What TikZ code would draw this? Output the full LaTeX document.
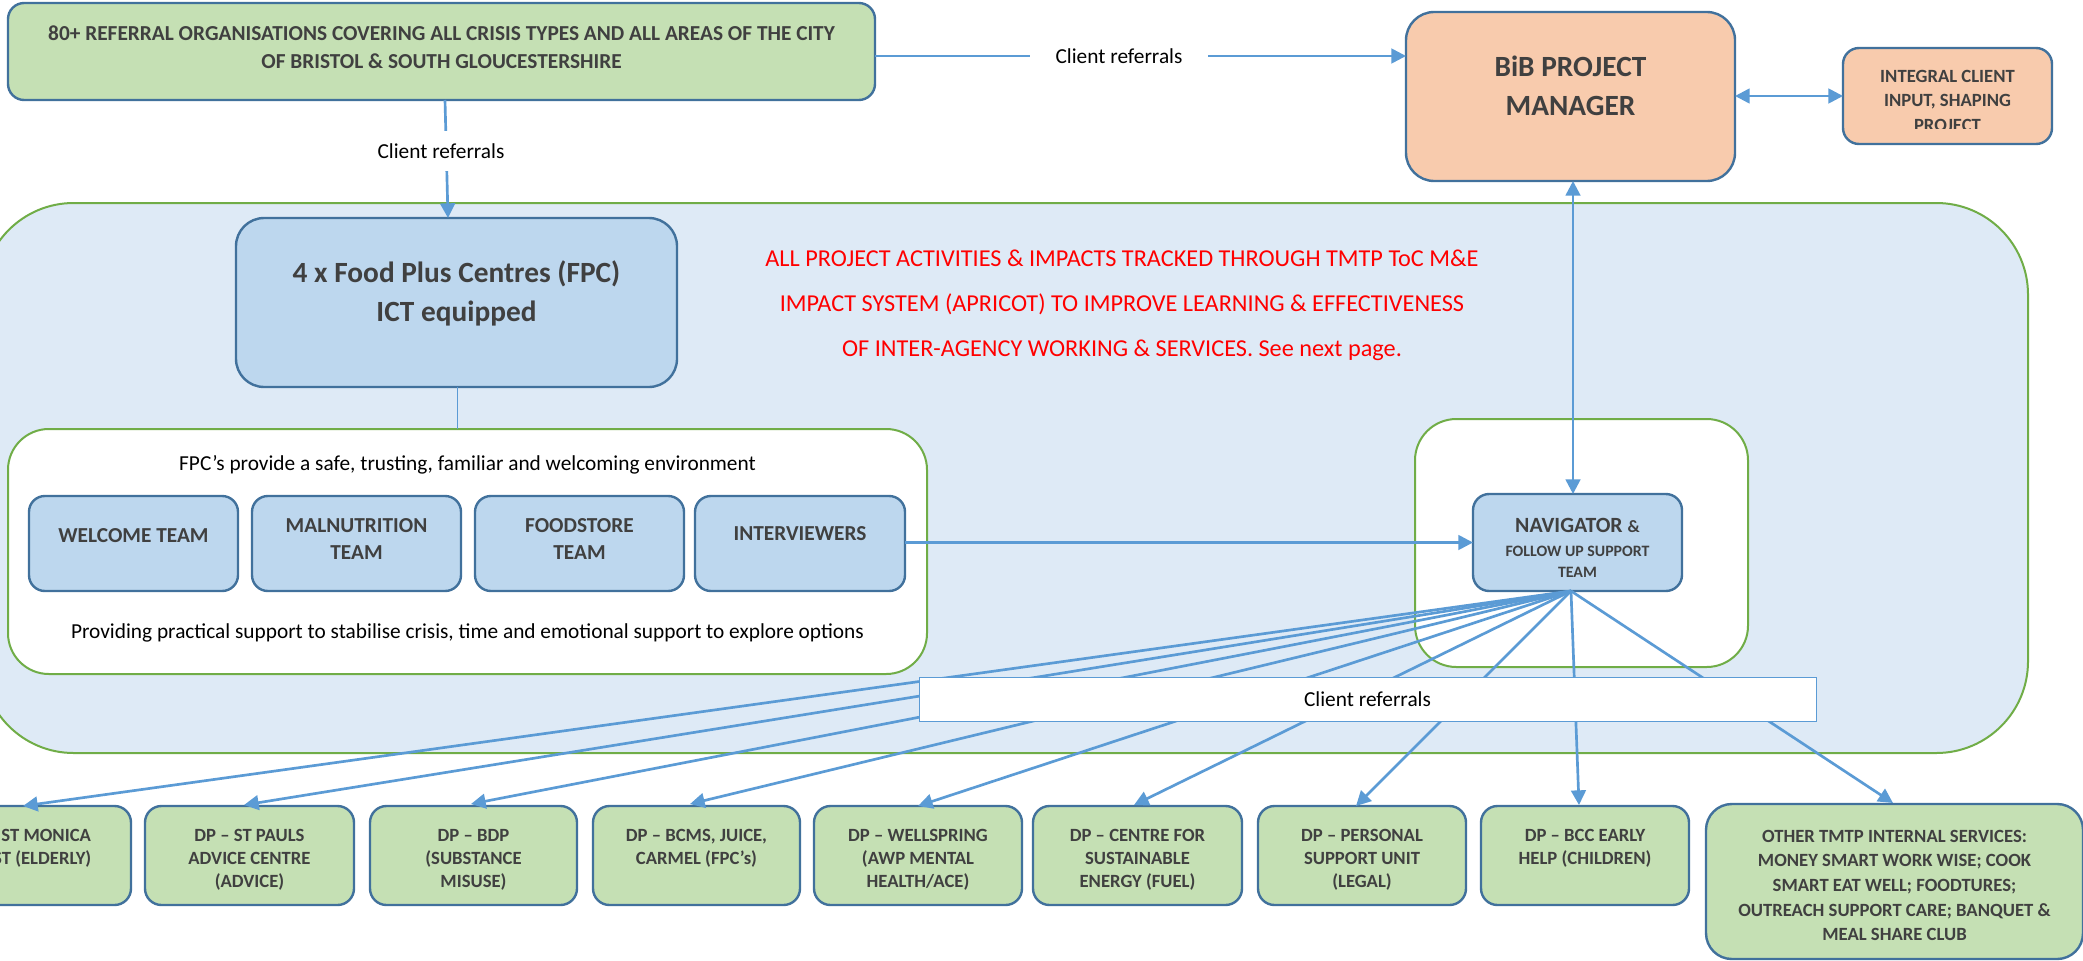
\documentclass[tikz,border=0pt]{standalone}
\usepackage{fontspec}
\setmainfont{Carlito}
\usetikzlibrary{arrows.meta}
\definecolor{linkblue}{HTML}{5B9BD5}
\definecolor{edgeblue}{HTML}{41719C}
\definecolor{edgegreen}{HTML}{70AD47}
\definecolor{fillgreen}{HTML}{C5E0B4}
\definecolor{fillblue}{HTML}{BDD7EE}
\definecolor{fillorange}{HTML}{F8CBAD}
\definecolor{fillpale}{HTML}{DEEAF6}
\definecolor{inktext}{HTML}{404040}
\newcommand{\fsz}[2]{\fontsize{#1}{#2}\selectfont}
% name, style, x1, y1, x2, y2, top offset (px), text
\newcommand{\pxbox}[8]{%
  \pgfmathsetmacro{\bw}{((#5)-(#3))*0.75}%
  \pgfmathsetmacro{\bh}{((#6)-(#4))*0.75}%
  \pgfmathsetmacro{\br}{min(\bw,\bh)/6}%
  \pgfmathsetmacro{\bo}{(#7)*0.75}%
  \node[rounded corners=\br pt,inner sep=0pt,outer sep=0pt,#2] (#1) at ({((#3)+(#5))/2},{((#4)+(#6))/2})
    {\parbox[c][\bh pt][t]{\bw pt}{\centering\vspace*{\bo pt}\leavevmode #8}};}
\tikzset{
  x=0.75pt,y=-0.75pt,
  greenbox/.style={draw=edgeblue,line width=1.8pt,fill=fillgreen,text=inktext,font=\bfseries\fsz{14}{17.3}},
  bluebox/.style={draw=edgeblue,line width=1.8pt,fill=fillblue,text=inktext,font=\bfseries\fsz{16}{20}},
  orangebox/.style={draw=edgeblue,line width=1.8pt,fill=fillorange,text=inktext},
  whitepanel/.style={draw=edgegreen,line width=1.5pt,fill=white,text=black,font=\fsz{16}{20}},
  palepanel/.style={draw=edgegreen,line width=1.5pt,fill=fillpale},
  link/.style={draw=linkblue,line width=2pt,-{Triangle[length=11pt,width=11pt]}},
  twoway/.style={draw=linkblue,line width=2pt,{Triangle[length=11pt,width=11pt]}-{Triangle[length=11pt,width=11pt]}},
  plainlink/.style={draw=linkblue,line width=0.6pt},
  linklabel/.style={fill=white,text=black,font=\fsz{16}{18},inner sep=0pt,minimum height=30pt},
  redline/.style={text=red,font=\fsz{18.2}{20},inner sep=0pt},
}
\begin{document}
\begin{tikzpicture}
\useasboundingbox (0,0) rectangle (2083,960);
\clip (0,0) rectangle (2083,960);
\fill[white] (0,0) rectangle (2083,960);
\pxbox{panel}{palepanel}{-18}{203}{2028}{753}{0}{}
\pxbox{top}{greenbox,font=\bfseries\fsz{16}{21}}{8}{3}{875}{100}{23}{80+ REFERRAL ORGANISATIONS COVERING ALL CRISIS TYPES AND ALL AREAS OF THE CITY\\OF BRISTOL \& SOUTH GLOUCESTERSHIRE}
\pxbox{bib}{orangebox,font=\bfseries\fsz{22}{29}}{1406}{12}{1735}{181}{44}{BiB PROJECT\\MANAGER}
\pxbox{integral}{orangebox,font=\bfseries\fsz{14}{18.3}}{1843}{48}{2052}{144}{22}{INTEGRAL CLIENT\\INPUT, SHAPING\\PROJECT}
\pxbox{fpc}{bluebox,font=\bfseries\fsz{22}{29}}{236}{218}{677}{387}{43}{4 x Food Plus Centres (FPC)\\ICT equipped}
\pxbox{left}{whitepanel}{8}{429}{927}{674}{26}{FPC’s provide a safe, trusting, familiar and welcoming environment\\[106pt]Providing practical support to stabilise crisis, time and emotional support to explore options}
\pxbox{right}{whitepanel}{1415}{419}{1748}{667}{0}{}
\pxbox{welcome}{bluebox}{29}{496}{238}{591}{33}{WELCOME TEAM}
\pxbox{malnut}{bluebox}{252}{496}{461}{591}{23}{MALNUTRITION\\TEAM}
\pxbox{foodstore}{bluebox}{475}{496}{684}{591}{23}{FOODSTORE\\TEAM}
\pxbox{interview}{bluebox}{695}{496}{905}{591}{31}{INTERVIEWERS}
\pxbox{nav}{bluebox,font=\bfseries\fsz{16.3}{16}}{1473}{494}{1682}{591}{24}{NAVIGATOR {\fsz{13}{16}\&}\\[2pt]{\fsz{11.9}{16}FOLLOW UP SUPPORT\\TEAM}}
\pxbox{d1}{greenbox}{-78}{806}{131}{905}{23}{DP – ST MONICA\\TRUST (ELDERLY)}
\pxbox{d2}{greenbox}{145}{806}{354}{905}{23}{DP – ST PAULS\\ADVICE CENTRE\\(ADVICE)}
\pxbox{d3}{greenbox}{370}{806}{577}{905}{23}{DP – BDP\\(SUBSTANCE\\MISUSE)}
\pxbox{d4}{greenbox}{593}{806}{800}{905}{23}{DP – BCMS, JUICE,\\CARMEL (FPC’s)}
\pxbox{d5}{greenbox}{814}{806}{1022}{905}{23}{DP – WELLSPRING\\(AWP MENTAL\\HEALTH/ACE)}
\pxbox{d6}{greenbox}{1033}{806}{1242}{905}{23}{DP – CENTRE FOR\\SUSTAINABLE\\ENERGY (FUEL)}
\pxbox{d7}{greenbox}{1258}{806}{1466}{905}{23}{DP – PERSONAL\\SUPPORT UNIT\\(LEGAL)}
\pxbox{d8}{greenbox}{1481}{806}{1689}{905}{23}{DP – BCC EARLY\\HELP (CHILDREN)}
\pxbox{d9}{greenbox,font=\bfseries\fsz{14}{18.5}}{1706}{804}{2083}{959}{26}{OTHER TMTP INTERNAL SERVICES:\\MONEY SMART WORK WISE; COOK\\SMART EAT WELL; FOODTURES;\\OUTREACH SUPPORT CARE; BANQUET \&\\MEAL SHARE CLUB}
\node[redline] (r1) at (1122,258) {ALL PROJECT ACTIVITIES \& IMPACTS TRACKED THROUGH TMTP ToC M\&E};
\node[redline] (r2) at (1122,304) {IMPACT SYSTEM (APRICOT) TO IMPROVE LEARNING \& EFFECTIVENESS};
\node[redline] (r3) at (1122,350) {OF INTER-AGENCY WORKING \& SERVICES. See next page.};
% the last line of the client-input box is cut off just above its baseline
\fill[fillorange] (1900,129) rectangle (2000,136);
% connectors
\coordinate (navout) at (1571,591);
\coordinate (bibin) at (1573,181);
\coordinate (navin) at (1573,494);
\coordinate (topout) at (875,56);
\coordinate (bibwest) at (1406,56);
\coordinate (topdown) at (445,100);
\coordinate (fpcin) at (448,218);
\coordinate (fpcout) at (457,387);
\coordinate (leftin) at (457,429);
\coordinate (intwest) at (1843,96);
\coordinate (bibeast) at (1735,96);
\foreach \t/\x/\y in {d1/23/806,d2/244/805,d3/471/804,d4/690/804,d5/918/806,d6/1134/805,d7/1356/806,d8/1579/805,d9/1893/803}
  \draw[link] (navout) -- (\x,\y) coordinate (\t in);
\draw[link] (topout) -- (bibwest);
\draw[link] (topdown) -- (fpcin);
\draw[plainlink] (fpcout) -- (leftin);
\draw[twoway] (bibin) -- (navin);
\draw[twoway] (bibeast) -- (intwest);
\draw[link] (interview.east |- nav.west) -- (nav.west);
\node[linklabel,minimum width=134pt] (toplabel) at (1119,56) {Client referrals};
\node[linklabel,minimum width=100pt] (downlabel) at (441,151) {Client referrals};
\node[draw=linkblue,line width=0.7pt,fill=white,text=black,font=\fsz{16}{18},minimum width=672.75pt,minimum height=33pt,inner sep=0pt] (band) at (1367.5,699) {\raisebox{-2pt}{Client referrals}};
\end{tikzpicture}
\end{document}
